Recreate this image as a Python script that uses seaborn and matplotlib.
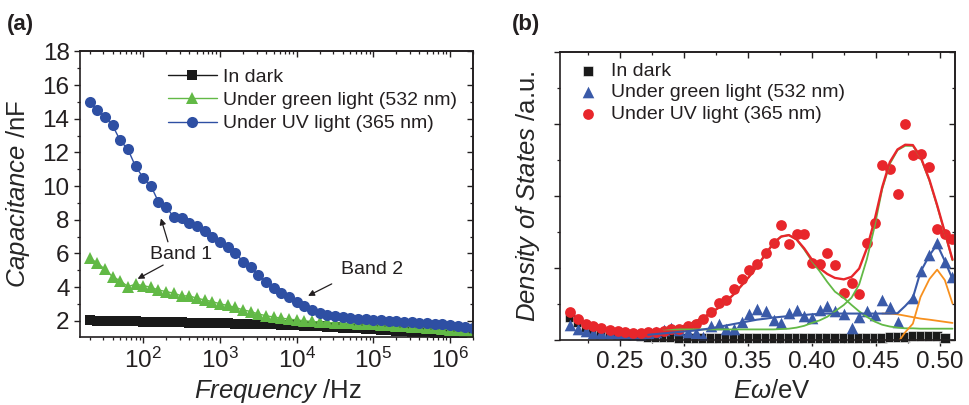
import numpy as np
import matplotlib

matplotlib.use("Agg")
import matplotlib.pyplot as plt
import seaborn as sns
from matplotlib.ticker import MultipleLocator, NullFormatter, FormatStrFormatter

# ---- panel (a): capacitance vs frequency ----
FREQ = [20, 25.1, 31.6, 39.8, 50.1, 63.1, 79.4, 100, 126, 158,
        200, 251, 316, 398, 501, 631, 794, 1e3, 1.26e3, 1.58e3,
        2e3, 2.51e3, 3.16e3, 3.98e3, 5.01e3, 6.31e3, 7.94e3, 1e4, 1.26e4, 1.58e4,
        2e4, 2.51e4, 3.16e4, 3.98e4, 5.01e4, 6.31e4, 7.94e4, 1e5, 1.26e5, 1.58e5,
        2e5, 2.51e5, 3.16e5, 3.98e5, 5.01e5, 6.31e5, 7.94e5, 1e6, 1.26e6, 1.58e6,
        2e6]
CAP_DARK = [2.02, 2.01, 2.00, 1.99, 1.98, 1.97, 1.96, 1.95, 1.94, 1.93,
            1.92, 1.91, 1.90, 1.89, 1.88, 1.87, 1.86, 1.85, 1.84, 1.83,
            1.82, 1.81, 1.80, 1.79, 1.78, 1.77, 1.76, 1.75, 1.72, 1.70,
            1.67, 1.65, 1.62, 1.60, 1.57, 1.55, 1.52, 1.49, 1.47, 1.44,
            1.42, 1.39, 1.36, 1.34, 1.31, 1.29, 1.26, 1.23, 1.21, 1.18,
            1.15]
CAP_GREEN = [5.71, 5.45, 5.06, 4.62, 4.38, 4.03, 4.17, 4.09, 3.99, 3.83,
             3.73, 3.64, 3.48, 3.48, 3.34, 3.24, 3.14, 3.01, 2.91, 2.79,
             2.65, 2.55, 2.41, 2.30, 2.22, 2.16, 2.10, 2.05, 2.00, 1.96,
             1.93, 1.90, 1.88, 1.86, 1.84, 1.82, 1.80, 1.78, 1.76, 1.74,
             1.71, 1.68, 1.65, 1.62, 1.59, 1.56, 1.52, 1.48, 1.44, 1.40,
             1.36]
CAP_UV = [15.0, 14.53, 14.13, 13.60, 12.71, 12.18, 11.17, 10.50, 10.01, 9.06,
          8.76, 8.14, 8.08, 7.78, 7.62, 7.34, 6.99, 6.69, 6.40, 6.04,
          5.51, 5.21, 4.72, 4.33, 3.93, 3.64, 3.40, 3.14, 2.85, 2.65,
          2.46, 2.36, 2.30, 2.22, 2.16, 2.13, 2.10, 2.07, 2.04, 2.01,
          1.98, 1.95, 1.92, 1.89, 1.86, 1.82, 1.78, 1.74, 1.68, 1.62,
          1.56]

# ---- panel (b): density of states vs energy ----
ENERGY = [0.211, 0.217, 0.223, 0.229, 0.235, 0.242, 0.248, 0.254, 0.260, 0.266,
          0.272, 0.278, 0.284, 0.290, 0.296, 0.303, 0.309, 0.315, 0.321, 0.327,
          0.333, 0.339, 0.345, 0.351, 0.357, 0.364, 0.370, 0.376, 0.382, 0.388,
          0.394, 0.400, 0.406, 0.412, 0.418, 0.425, 0.431, 0.437, 0.443, 0.449,
          0.455, 0.461, 0.467, 0.473, 0.479, 0.485, 0.492, 0.498, 0.504, 0.510]
DOS_DARK = [0.65, 0.50, 0.38, 0.30, 0.25, 0.21, 0.18, 0.16, 0.14, 0.12,
            0.10, 0.09, 0.08, 0.08, 0.07, 0.07, 0.07, 0.07, 0.07, 0.07,
            0.07, 0.07, 0.07, 0.07, 0.07, 0.07, 0.07, 0.07, 0.07, 0.07,
            0.07, 0.07, 0.07, 0.07, 0.07, 0.07, 0.07, 0.07, 0.07, 0.07,
            0.07, 0.08, 0.09, 0.10, 0.12, 0.12, 0.13, 0.12, 0.06, np.nan]
DOS_GREEN = [0.42, 0.30, 0.25, 0.21, 0.20, 0.19, 0.19, 0.17, 0.16, 0.12,
             0.20, 0.23, 0.28, 0.35, 0.28, 0.23, 0.20, 0.09, 0.39, 0.46,
             0.32, 0.32, 0.50, 0.74, 0.88, 0.81, 0.56, 0.48, 0.76, 0.83,
             0.67, 0.63, 0.85, 0.94, 0.80, 0.74, 0.35, 0.65, 0.81, 0.69,
             1.12, 0.91, 0.51, np.nan, 1.16, 1.91, 2.36, 2.69, 2.18, 1.75]
DOS_UV = [0.77, 0.60, 0.46, 0.39, 0.33, 0.28, 0.25, 0.23, 0.21, 0.21,
          0.23, 0.23, 0.26, 0.30, 0.32, 0.39, 0.46, 0.60, 0.79, 1.02,
          1.13, 1.42, 1.70, 1.95, 2.11, 2.41, 2.70, 3.19, 2.67, 2.96,
          2.96, 2.15, 2.13, 2.43, 2.10, 1.30, 1.59, 1.28, 2.69, 3.26,
          4.88, 4.77, 4.05, 6.02, 5.14, 5.16, 4.81, 3.10, 2.96, 2.80]

# fitted curves, read at the same energies (start index noted)
FIT_UV_START = 12
FIT_UV = [0.32, 0.34, 0.37, 0.42, 0.52, 0.63, 0.76, 0.90, 1.08, 1.28,
          1.52, 1.77, 2.05, 2.40, 2.70, 2.88, 2.92, 2.80, 2.55, 2.24,
          2.00, 1.84, 1.73, 1.69, 1.76, 1.99, 2.55, 3.33, 4.25, 4.95,
          5.30, 5.43, 5.42, 5.10, 4.45, 3.75, 3.00, 2.24]
PEAK1 = [0.32, 0.34, 0.37, 0.42, 0.52, 0.63, 0.76, 0.90, 1.08, 1.28,
         1.52, 1.77, 2.05, 2.40, 2.70, 2.88, 2.92, 2.80, 2.52, 2.20,
         1.92, 1.62, 1.35, 1.17, 0.98, 0.80, 0.65, 0.52, 0.43, 0.38,
         0.35, 0.33, 0.33, 0.32, 0.32, 0.32, 0.32, 0.32]
PEAK2 = [0.30, 0.30, 0.30, 0.30, 0.30, 0.30, 0.30, 0.30, 0.30, 0.30,
         0.30, 0.30, 0.30, 0.30, 0.30, 0.31, 0.32, 0.35, 0.40, 0.48,
         0.55, 0.65, 0.80, 0.98, 1.18, 1.55, 2.25, 3.15, 4.20, 4.90,
         5.28, 5.40, 5.40, 5.08, 4.43, 3.73, 2.98, 2.22]
FIT_GREEN_START = 10
FIT_GREEN = [0.15, 0.17, 0.19, 0.21, 0.23, 0.25, 0.27, 0.30, 0.33, 0.37,
             0.41, 0.45, 0.49, 0.53, 0.57, 0.60, 0.63, 0.65, 0.67, 0.69,
             0.70, 0.72, 0.73, 0.74, 0.74, 0.74, 0.74, 0.74, 0.74, 0.74,
             0.74, 0.74, 0.75, 0.95, 1.18, 1.90, 2.36, 2.66, 2.20, 1.70]
BROAD_START = 40
BROAD = [0.74, 0.74, 0.72, 0.68, 0.64, 0.60, 0.57, 0.54, 0.51, 0.48]
NARROW_START = 42
NARROW = [-0.08, 0.22, 0.46, 1.20, 1.70, 1.96, 1.67, 1.02]

COLORS = {
    "dark": "#1a1a1a",
    "green": "#62b946",
    "uv": "#2e4fa3",
    "red": "#e8262b",
    "tri": "#3a5aa8",
    "orange": "#f7901e",
    "text": "#231f20",
}

sns.set_style("ticks")
plt.rcParams.update({
    "font.family": ["Liberation Sans", "DejaVu Sans"],
    "mathtext.fontset": "custom",
    "mathtext.rm": "Liberation Sans",
    "mathtext.it": "Liberation Sans:italic",
    "mathtext.bf": "Liberation Sans:bold",
    "text.color": COLORS["text"],
    "axes.edgecolor": COLORS["text"],
    "axes.linewidth": 1.2,
    "xtick.color": COLORS["text"],
    "ytick.color": COLORS["text"],
    "xtick.labelsize": 17.5,
    "ytick.labelsize": 17.5,
    "xtick.major.size": 4,
    "ytick.major.size": 4,
    "xtick.minor.size": 2.2,
    "ytick.minor.size": 2.2,
    "xtick.major.width": 1.0,
    "ytick.major.width": 1.0,
    "xtick.minor.width": 0.9,
    "ytick.minor.width": 0.9,
})


def mirror_ticks(ax):
    """Inward ticks on top/right without labels, like the original plot."""
    top = ax.secondary_xaxis("top")
    right = ax.secondary_yaxis("right")
    top.tick_params(which="both", direction="in", labeltop=False)
    right.tick_params(which="both", direction="in", labelright=False)
    top.xaxis.set_major_formatter(NullFormatter())
    top.xaxis.set_minor_formatter(NullFormatter())
    right.yaxis.set_major_formatter(NullFormatter())
    return top, right


fig = plt.figure(figsize=(9.69, 4.05), dpi=100)

# ---------------- (a) ----------------
ax = fig.add_axes([0.0826, 0.168, 0.4056, 0.7065])
ax.set_xscale("log")
sns.lineplot(x=FREQ, y=CAP_DARK, ax=ax, color=COLORS["dark"], marker="s",
             markersize=7.5, markeredgewidth=0, linewidth=1.0, label="In dark")
sns.lineplot(x=FREQ, y=CAP_GREEN, ax=ax, color=COLORS["green"], marker="^",
             markersize=9, markeredgewidth=0, linewidth=1.0,
             label="Under green light (532 nm)")
sns.lineplot(x=FREQ, y=CAP_UV, ax=ax, color=COLORS["uv"], marker="o",
             markersize=8, markeredgewidth=0, linewidth=1.0,
             label="Under UV light (365 nm)")
ax.set_xlim(15, 2e6)
ax.set_ylim(1.04, 18.03)
ax.yaxis.set_major_locator(MultipleLocator(2))
ax.yaxis.set_minor_locator(MultipleLocator(1))
ax.tick_params(which="both", direction="out")
top, right = mirror_ticks(ax)
right.yaxis.set_major_locator(MultipleLocator(2))
right.yaxis.set_minor_locator(MultipleLocator(1))

ax.set_xlabel(r"$\mathit{Frequency}$ /Hz", fontsize=18.5)
ax.set_ylabel(r"$\mathit{Capacitance}$ /nF", fontsize=18.5)
ax.xaxis.set_label_coords(0.503, -0.14)
ax.yaxis.set_label_coords(-0.122, 0.5)

ax.legend(loc="upper left", bbox_to_anchor=(0.224, 0.94), frameon=False,
          fontsize=14, handlelength=2.5, handletextpad=0.35,
          borderpad=0, borderaxespad=0, labelspacing=0.3)

arrow = dict(arrowstyle="-|>", color=COLORS["text"], lw=0.9,
             mutation_scale=9, shrinkA=0, shrinkB=0)
ax.annotate("", xy=(170, 8.08), xytext=(210, 6.69), arrowprops=arrow)
ax.annotate("", xy=(84.5, 4.49), xytext=(182, 5.31), arrowprops=arrow)
ax.text(308, 5.96, "Band 1", fontsize=14, ha="center", va="center")
ax.annotate("", xy=(1.41e4, 3.48), xytext=(2.87e4, 4.19), arrowprops=arrow)
ax.text(9.6e4, 5.02, "Band 2", fontsize=14, ha="center", va="center")

# ---------------- (b) ----------------
bx = fig.add_axes([0.578, 0.160, 0.4076, 0.711])
sns.scatterplot(x=ENERGY, y=DOS_DARK, ax=bx, marker="s", s=55,
                color=COLORS["dark"], edgecolor="white", linewidth=0.4,
                clip_on=False, label="In dark")
sns.scatterplot(x=ENERGY, y=DOS_GREEN, ax=bx, marker="^", s=70,
                color=COLORS["tri"], linewidth=0,
                label="Under green light (532 nm)")
sns.scatterplot(x=ENERGY, y=DOS_UV, ax=bx, marker="o", s=60,
                color=COLORS["red"], linewidth=0,
                label="Under UV light (365 nm)")

sns.lineplot(x=ENERGY[FIT_UV_START:], y=PEAK1, ax=bx, color=COLORS["green"], linewidth=1.3)
sns.lineplot(x=ENERGY[FIT_UV_START:], y=PEAK2, ax=bx, color=COLORS["green"], linewidth=1.3)
sns.lineplot(x=ENERGY[BROAD_START:], y=BROAD, ax=bx, color=COLORS["orange"], linewidth=1.3)
sns.lineplot(x=ENERGY[NARROW_START:], y=NARROW, ax=bx, color=COLORS["orange"], linewidth=1.3)
sns.lineplot(x=ENERGY[FIT_GREEN_START:], y=FIT_GREEN, ax=bx, color=COLORS["tri"], linewidth=1.5)
sns.lineplot(x=ENERGY[FIT_UV_START:], y=FIT_UV, ax=bx, color=COLORS["red"], linewidth=1.7)

bx.set_xlim(0.203, 0.512)
bx.set_ylim(0, 8)
bx.xaxis.set_major_locator(MultipleLocator(0.05))
bx.xaxis.set_minor_locator(MultipleLocator(0.025))
bx.xaxis.set_major_formatter(FormatStrFormatter("%.2f"))
bx.yaxis.set_major_locator(MultipleLocator(2))
bx.yaxis.set_minor_locator(MultipleLocator(1))
bx.yaxis.set_major_formatter(NullFormatter())
bx.tick_params(which="both", direction="out")
btop, bright = mirror_ticks(bx)
btop.xaxis.set_major_locator(MultipleLocator(0.05))
btop.xaxis.set_minor_locator(MultipleLocator(0.025))
bright.yaxis.set_major_locator(MultipleLocator(2))
bright.yaxis.set_minor_locator(MultipleLocator(1))

bx.set_xlabel(r"$\mathit{E\omega}$/eV", fontsize=18.5)
bx.set_ylabel(r"$\mathit{Density\ of\ States}$ /a.u.", fontsize=18.5)
bx.xaxis.set_label_coords(0.536, -0.135)
bx.yaxis.set_label_coords(-0.046, 0.5)

handles, labels = bx.get_legend_handles_labels()
bx.legend(handles[:3], labels[:3], loc="upper left", bbox_to_anchor=(0.046, 0.965),
          frameon=False, fontsize=14, handlelength=1.0, handletextpad=0.7,
          borderpad=0, borderaxespad=0, labelspacing=0.2)

fig.text(0.007, 0.965, "(a)", fontsize=16, fontweight="bold", va="top", ha="left")
fig.text(0.528, 0.965, "(b)", fontsize=16, fontweight="bold", va="top", ha="left")

fig.savefig("out.png", dpi=100)
plt.close(fig)
